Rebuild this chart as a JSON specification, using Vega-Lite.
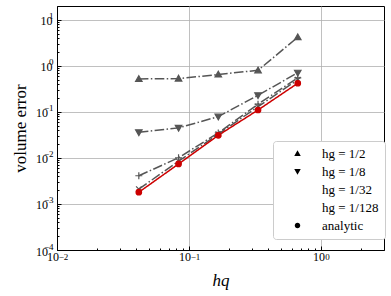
{
  "$schema": "https://vega.github.io/schema/vega-lite/v6.json",
  "autosize": "none",
  "width": 327,
  "height": 244,
  "padding": {"left": 57, "top": 6, "right": 7, "bottom": 46},
  "background": "white",
  "config": {
    "view": {"stroke": "black", "strokeWidth": 1},
    "font": "Liberation Serif",
    "axis": {"labelFont": "Liberation Serif", "titleFont": "Liberation Serif", "labelColor": "black", "titleColor": "black", "domainColor": "black", "tickColor": "black", "gridColor": "#b0b0b0", "gridWidth": 0.8, "titleFontWeight": "normal", "labelFlush": false, "labelOverlap": false, "labelBound": false}
  },
  "data": {"values": [
    {"h": 0.041667, "err": 0.52, "series": "hg = 1/2"},
    {"h": 0.083333, "err": 0.53, "series": "hg = 1/2"},
    {"h": 0.166667, "err": 0.65, "series": "hg = 1/2"},
    {"h": 0.333333, "err": 0.80, "series": "hg = 1/2"},
    {"h": 0.666667, "err": 4.2, "series": "hg = 1/2"},
    {"h": 0.041667, "err": 0.036, "series": "hg = 1/8"},
    {"h": 0.083333, "err": 0.045, "series": "hg = 1/8"},
    {"h": 0.166667, "err": 0.079, "series": "hg = 1/8"},
    {"h": 0.333333, "err": 0.23, "series": "hg = 1/8"},
    {"h": 0.666667, "err": 0.71, "series": "hg = 1/8"},
    {"h": 0.041667, "err": 0.0041, "series": "hg = 1/32"},
    {"h": 0.083333, "err": 0.0101, "series": "hg = 1/32"},
    {"h": 0.166667, "err": 0.035, "series": "hg = 1/32"},
    {"h": 0.333333, "err": 0.147, "series": "hg = 1/32"},
    {"h": 0.666667, "err": 0.55, "series": "hg = 1/32"},
    {"h": 0.041667, "err": 0.0021, "series": "hg = 1/128"},
    {"h": 0.083333, "err": 0.0085, "series": "hg = 1/128"},
    {"h": 0.166667, "err": 0.033, "series": "hg = 1/128"},
    {"h": 0.333333, "err": 0.13, "series": "hg = 1/128"},
    {"h": 0.666667, "err": 0.5, "series": "hg = 1/128"},
    {"h": 0.041667, "err": 0.0018, "series": "analytic"},
    {"h": 0.083333, "err": 0.0074, "series": "analytic"},
    {"h": 0.166667, "err": 0.031, "series": "analytic"},
    {"h": 0.333333, "err": 0.11, "series": "analytic"},
    {"h": 0.666667, "err": 0.42, "series": "analytic"}
  ]},
  "layer": [
    {
      "mark": {"type": "line", "strokeWidth": 1.5},
      "encoding": {
        "x": {"field": "h", "type": "quantitative",
          "scale": {"type": "log", "domain": [0.01, 3], "nice": false},
          "axis": {
            "orient": "bottom",
            "title": "hq", "titleFontSize": 17, "titleFontStyle": "italic", "titlePadding": 8,
            "values": [0.01,0.02,0.03,0.04,0.05,0.06,0.07,0.08,0.09,0.1,0.2,0.3,0.4,0.5,0.6,0.7,0.8,0.9,1,2,3],
            "labelExpr": "abs(log(datum.value)/LN10 - round(log(datum.value)/LN10)) < 0.001 ? '10' : ''",
            "labelFontSize": 12, "labelPadding": 5,
            "labelOffset": {"condition": {"test": "datum.value < 0.5", "value": -4.5}, "value": -2.5},
            "tickSize": {"condition": {"test": "abs(log(datum.value)/LN10 - round(log(datum.value)/LN10)) < 0.001", "value": -4}, "value": -2},
            "gridOpacity": {"condition": {"test": "abs(log(datum.value)/LN10 - round(log(datum.value)/LN10)) < 0.001", "value": 1}, "value": 0}
          }},
        "y": {"field": "err", "type": "quantitative",
          "scale": {"type": "log", "domain": [0.0001, 20], "nice": false},
          "axis": {
            "orient": "left",
            "title": "volume error", "titleFontSize": 17, "titlePadding": 6,
            "values": [0.0001,0.0002,0.0003,0.0004,0.0005,0.0006,0.0007,0.0008,0.0009,0.001,0.002,0.003,0.004,0.005,0.006,0.007,0.008,0.009,0.01,0.02,0.03,0.04,0.05,0.06,0.07,0.08,0.09,0.1,0.2,0.3,0.4,0.5,0.6,0.7,0.8,0.9,1,2,3,4,5,6,7,8,9,10,20],
            "labelExpr": "abs(log(datum.value)/LN10 - round(log(datum.value)/LN10)) < 0.001 ? '10' : ''",
            "labelFontSize": 12,
            "labelPadding": {"condition": {"test": "datum.value < 0.5", "value": 13.5}, "value": 9},
            "labelOffset": 1,
            "tickSize": {"condition": {"test": "abs(log(datum.value)/LN10 - round(log(datum.value)/LN10)) < 0.001", "value": -4}, "value": -2},
            "gridOpacity": {"condition": {"test": "abs(log(datum.value)/LN10 - round(log(datum.value)/LN10)) < 0.001", "value": 1}, "value": 0}
          }},
        "color": {"field": "series", "type": "nominal",
          "scale": {"domain": ["hg = 1/2", "hg = 1/8", "hg = 1/32", "hg = 1/128", "analytic"], "range": ["#555555", "#555555", "#555555", "#555555", "#cc0000"]},
          "legend": null},
        "strokeDash": {"field": "series", "type": "nominal",
          "scale": {"domain": ["hg = 1/2", "hg = 1/8", "hg = 1/32", "hg = 1/128", "analytic"], "range": [[9.6, 2.4, 1.5, 2.4], [9.6, 2.4, 1.5, 2.4], [9.6, 2.4, 1.5, 2.4], [9.6, 2.4, 1.5, 2.4], [1, 0]]},
          "legend": null}
      }
    },
    {
      "mark": {"type": "point", "filled": true, "size": 100, "opacity": 1, "strokeWidth": 1.2},
      "encoding": {
        "x": {"field": "h", "type": "quantitative", "axis": null},
        "y": {"field": "err", "type": "quantitative", "axis": null},
        "color": {"field": "series", "type": "nominal", "legend": null},
        "stroke": {"field": "series", "type": "nominal",
          "scale": {"domain": ["hg = 1/2", "hg = 1/8", "hg = 1/32", "hg = 1/128", "analytic"], "range": ["#555555", "#555555", "#555555", "#555555", "#cc0000"]},
          "legend": null},
        "shape": {"field": "series", "type": "nominal",
          "scale": {"domain": ["hg = 1/2", "hg = 1/8", "hg = 1/32", "hg = 1/128", "analytic"],
            "range": ["M0,-0.65L0.65,0.5L-0.65,0.5Z", "M0,0.65L0.65,-0.5L-0.65,-0.5Z", "M-0.7,0L0.7,0M0,-0.7L0,0.7", "M-0.55,-0.55L0.55,0.55M-0.55,0.55L0.55,-0.55", "M0.55,0A0.55,0.55,0,1,1,-0.55,0A0.55,0.55,0,1,1,0.55,0Z"]},
          "legend": null}
      }
    },
    {
      "transform": [{"filter": "false"}],
      "mark": {"type": "point", "filled": true, "size": 100, "opacity": 1, "strokeWidth": 1.2},
      "encoding": {
        "x": {"field": "h", "type": "quantitative",
          "axis": {
            "orient": "bottom", "title": null, "grid": false, "ticks": false, "domain": false,
            "values": [0.01, 0.1, 1],
            "labelExpr": "['−2','−1','0'][round(log(datum.value)/LN10)+2]",
            "labelFontSize": 9, "labelPadding": 2,
            "labelOffset": {"condition": {"test": "datum.value < 0.5", "value": 6}, "value": 6}
          }},
        "y": {"field": "err", "type": "quantitative",
          "axis": {
            "orient": "left", "title": null, "grid": false, "ticks": false, "domain": false,
            "values": [0.0001, 0.001, 0.01, 0.1, 1, 10],
            "labelExpr": "['−4','−3','−2','−1','0','1'][round(log(datum.value)/LN10)+4]",
            "labelFontSize": 9, "labelPadding": 4, "labelOffset": -4
          }},
        "color": {"field": "series", "type": "nominal", "title": null},
        "shape": {"field": "series", "type": "nominal", "title": null,
          "scale": {"domain": ["hg = 1/2", "hg = 1/8", "hg = 1/32", "hg = 1/128", "analytic"],
            "range": ["M-2.5,0L2.5,0M0,-0.65L0.65,0.5L-0.65,0.5Z", "M-2.5,0L2.5,0M0,0.65L0.65,-0.5L-0.65,-0.5Z", "M-2.5,0L2.5,0M0,-0.7L0,0.7", "M-2.5,0L2.5,0M-0.55,-0.55L0.55,0.55M-0.55,0.55L0.55,-0.55", "M-2.5,0L2.5,0M0.55,0A0.55,0.55,0,1,1,-0.55,0A0.55,0.55,0,1,1,0.55,0Z"]},
          "legend": {
            "orient": "none", "legendX": 216, "legendY": 135,
            "padding": 6, "fillColor": "white", "strokeColor": "#cccccc", "cornerRadius": 3,
            "symbolOffset": 12, "labelOffset": 18, "labelFontSize": 13, "labelFont": "Liberation Serif",
            "rowPadding": 4, "symbolStrokeWidth": 1.5, "symbolSize": 100, "labelColor": "black",
            "encode": {"symbols": {"update": {"stroke": {"signal": "datum.value == 'analytic' ? '#cc0000' : '#555555'"}, "strokeWidth": {"value": 1.5}}}}
          }}
      }
    }
  ],
  "resolve": {"scale": {"shape": "independent"}, "axis": {"x": "independent", "y": "independent"}}
}
